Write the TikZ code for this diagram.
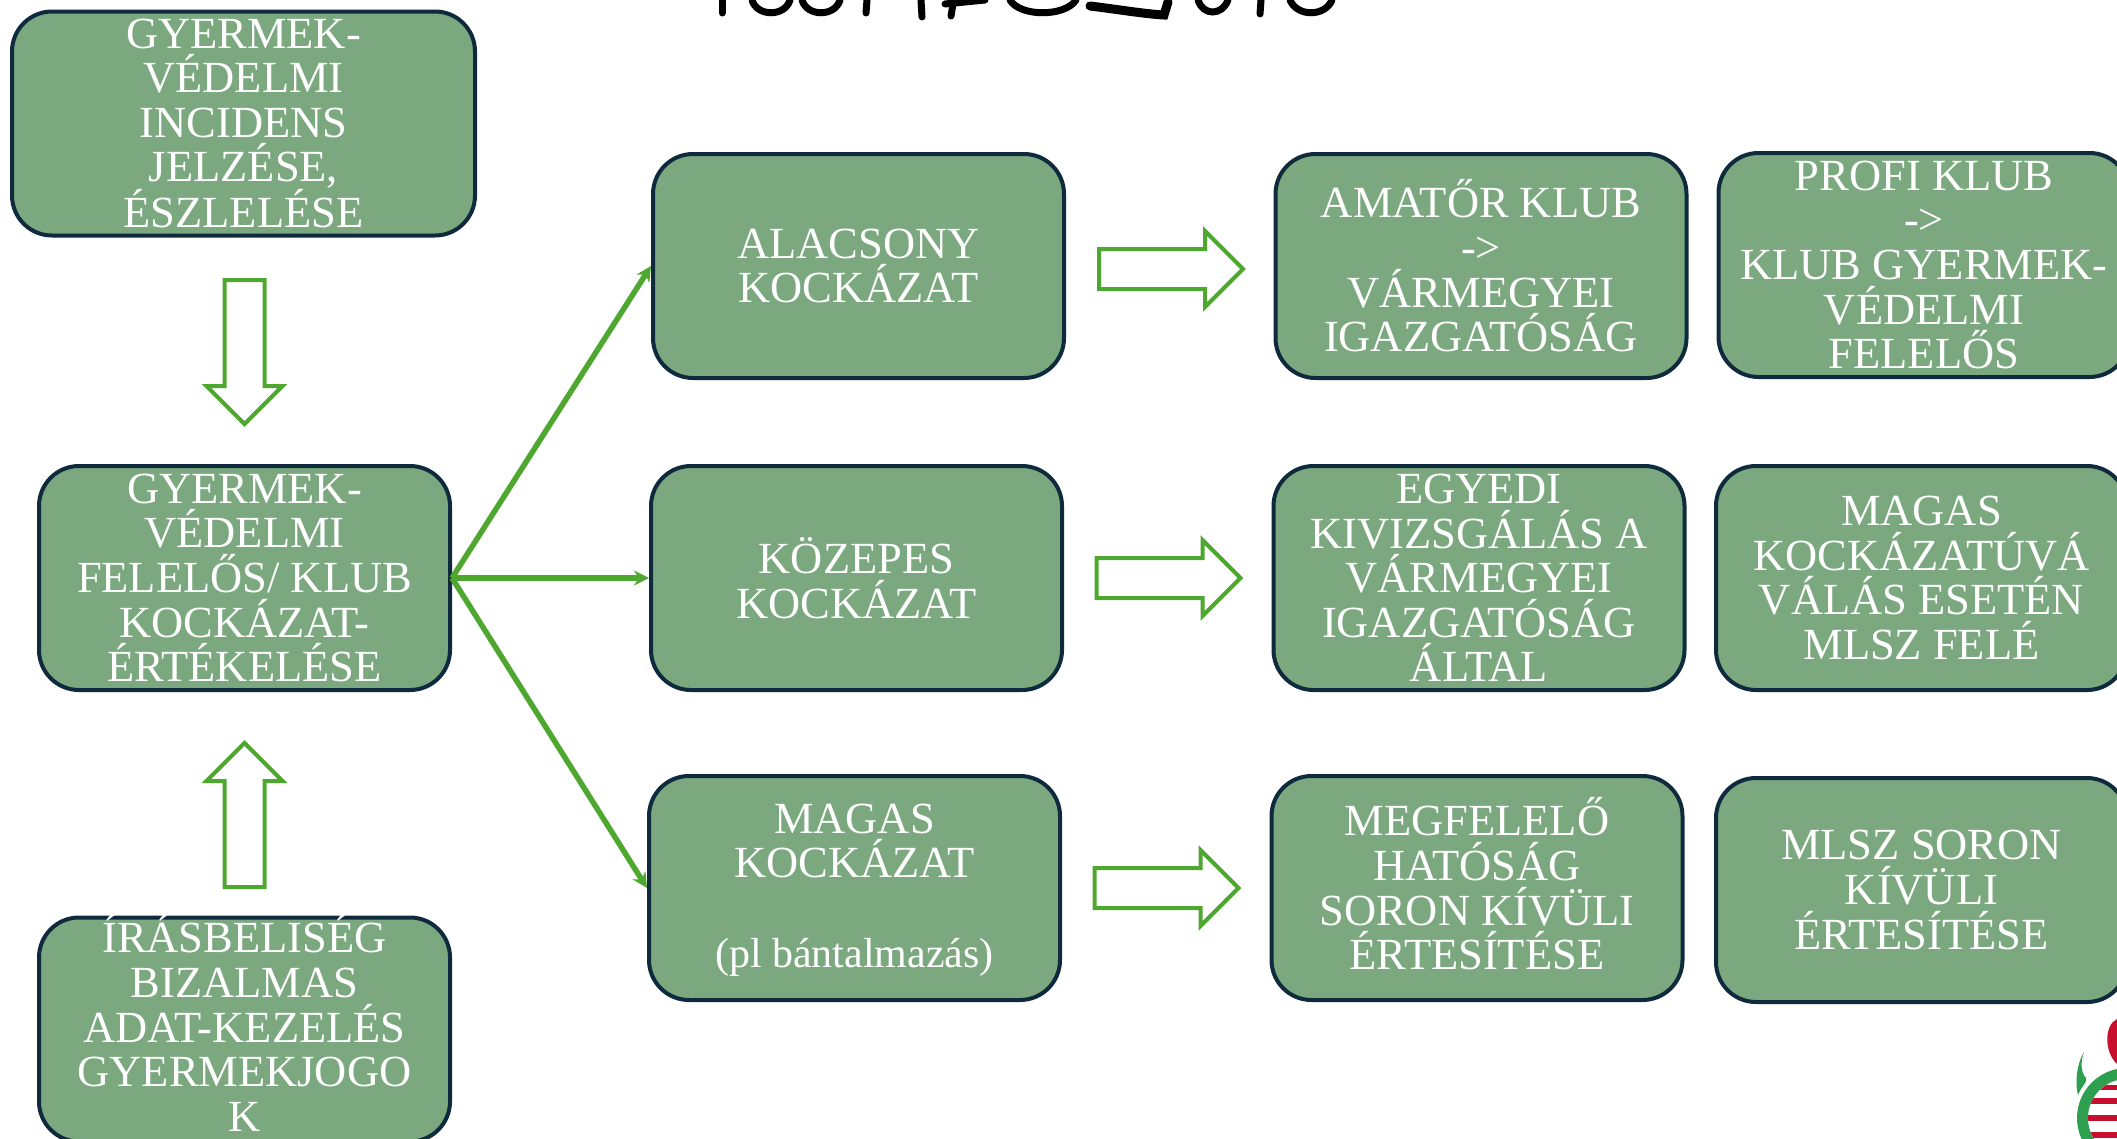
\documentclass[tikz,border=0pt]{standalone}
\usepackage{fontspec}
\setmainfont{Liberation Serif}
\usetikzlibrary{shapes.arrows,arrows.meta}
\definecolor{boxfill}{HTML}{7BA87F}
\definecolor{boxline}{HTML}{0E2A3C}
\definecolor{arrowgreen}{HTML}{4EA72E}
\definecolor{logored}{HTML}{C8102E}
\definecolor{logogreen}{HTML}{2E9E4F}
\tikzset{
  riskbox/.style={draw=boxline,fill=boxfill,line width=4pt,rounded corners=40pt,
    minimum width=411pt,minimum height=224pt,inner sep=0pt,align=center,text=white,
    font=\fontsize{44.5}{44.6}\selectfont},
  risktext/.style={inner sep=0pt,align=center,text=white,
    font=\fontsize{44.5}{44.6}\selectfont},
  blockarrow/.style={single arrow,draw=arrowgreen,fill=white,line width=4pt,
    minimum width=74pt,minimum height=144pt,inner xsep=0pt,inner ysep=18pt,
    single arrow head extend=18pt},
  thinarrow/.style={draw=arrowgreen,line width=5.5pt,-{Stealth[length=15pt,width=15pt]}},
  titleink/.style={draw=black,line width=7pt,line cap=round}
}
\begin{document}
\begin{tikzpicture}[x=1pt,y=-1pt]
\useasboundingbox (0,0) rectangle (2117,1138);
\clip (0,0) rectangle (2117,1138);
% title slivers
\begin{scope}[titleink]
\draw (722,0) -- (722,13);
\draw (752,0) .. controls (757,17) and (785,17) .. (790,0);
\draw (802,0) .. controls (807,17) and (835,17) .. (840,0);
\draw (867,0) -- (866,13);
\draw (921,0) -- (922,17);
\draw (945,4) -- (985,0);
\draw (953,4) -- (951,16);
\draw (1010,0) .. controls (1020,17) and (1065,17) .. (1076,0);
\draw[line width=9pt] (1090,6) .. controls (1115,9) and (1145,14) .. (1164,15) -- (1168,2);
\draw (1198,0) .. controls (1203,16) and (1222,16) .. (1228,0);
\draw (1261,0) -- (1260,14);
\draw (1290,0) .. controls (1297,17) and (1325,17) .. (1332,0);
\end{scope}
% boxes
\node[riskbox,minimum width=463pt] (report) at (243.5,123.5) {GYERMEK-\\VÉDELMI\\INCIDENS\\JELZÉSE,\\ÉSZLELÉSE};
\node[riskbox] (assess) at (244.5,578) {GYERMEK-\\VÉDELMI\\FELELŐS/ KLUB\\KOCKÁZAT-\\ÉRTÉKELÉSE};
\node[riskbox] (docs) at (244.5,1029.5) {};
\node[risktext] (docstext) at (244.5,1023) {ÍRÁSBELISÉG\\BIZALMAS\\ADAT-KEZELÉS\\GYERMEKJOGO\\K};
\node[riskbox] (low) at (858.5,266) {ALACSONY\\KOCKÁZAT};
\node[riskbox] (mid) at (856.5,578) {KÖZEPES\\KOCKÁZAT};
\node[riskbox] (high) at (854.5,888) {};
\node[risktext] (hightext) at (854.5,890) {MAGAS\\KOCKÁZAT\\\mbox{}\\{\fontsize{42}{44.6}\selectfont (pl bántalmazás)}};
\node[riskbox] (amateur) at (1481,266) {AMATŐR KLUB\\->\\VÁRMEGYEI\\IGAZGATÓSÁG};
\node[riskbox] (county) at (1479,578) {EGYEDI\\KIVIZSGÁLÁS A\\VÁRMEGYEI\\IGAZGATÓSÁG\\ÁLTAL};
\node[riskbox] (authority) at (1477,888) {};
\node[risktext] (authoritytext) at (1477,884) {MEGFELELŐ\\HATÓSÁG\\SORON KÍVÜLI\\ÉRTESÍTÉSE};
\node[riskbox] (pro) at (1924,265) {PROFI KLUB\\->\\KLUB GYERMEK-\\VÉDELMI\\FELELŐS};
\node[riskbox] (toMLSZ) at (1921.5,578) {MAGAS\\KOCKÁZATÚVÁ\\VÁLÁS ESETÉN\\MLSZ FELÉ};
\node[riskbox] (mlsz) at (1921.5,890) {MLSZ SORON\\KÍVÜLI\\ÉRTESÍTÉSE};
% block arrows
\node[blockarrow,rotate=-90] (ba1) at (244.5,342) {};
\node[blockarrow,rotate=90] (ba2) at (244.5,825) {};
\node[blockarrow] (ba3) at (1161,269) {};
\node[blockarrow] (ba4) at (1158.5,578) {};
\node[blockarrow] (ba5) at (1156.5,888) {};
% connectors
\draw[thinarrow] (assess.east) -- (low.west);
\draw[thinarrow] (assess.east) -- (mid.west);
\draw[thinarrow] (assess.east) -- (high.west);
% emblem
\fill[logored] (2117,1019) .. controls (2104,1025) and (2104,1052) .. (2117,1064) -- cycle;
\fill[logogreen] (2084,1052) .. controls (2076,1065) and (2075,1085) .. (2078,1095) .. controls (2082,1085) and (2088,1082) .. (2086,1078) .. controls (2080,1072) and (2081,1060) .. (2084,1052) -- cycle;
\fill[logogreen] (2127,1118) circle (50pt);
\fill[white] (2127,1118) circle (39pt);
\begin{scope}
\clip (2127,1118) circle (39pt);
\fill[logored] (2080,1085) rectangle (2117,1090);
\fill[logored] (2080,1098) rectangle (2117,1104);
\fill[logored] (2080,1115) rectangle (2117,1121);
\fill[logored] (2080,1132) rectangle (2117,1138);
\end{scope}
\end{tikzpicture}
\end{document}
